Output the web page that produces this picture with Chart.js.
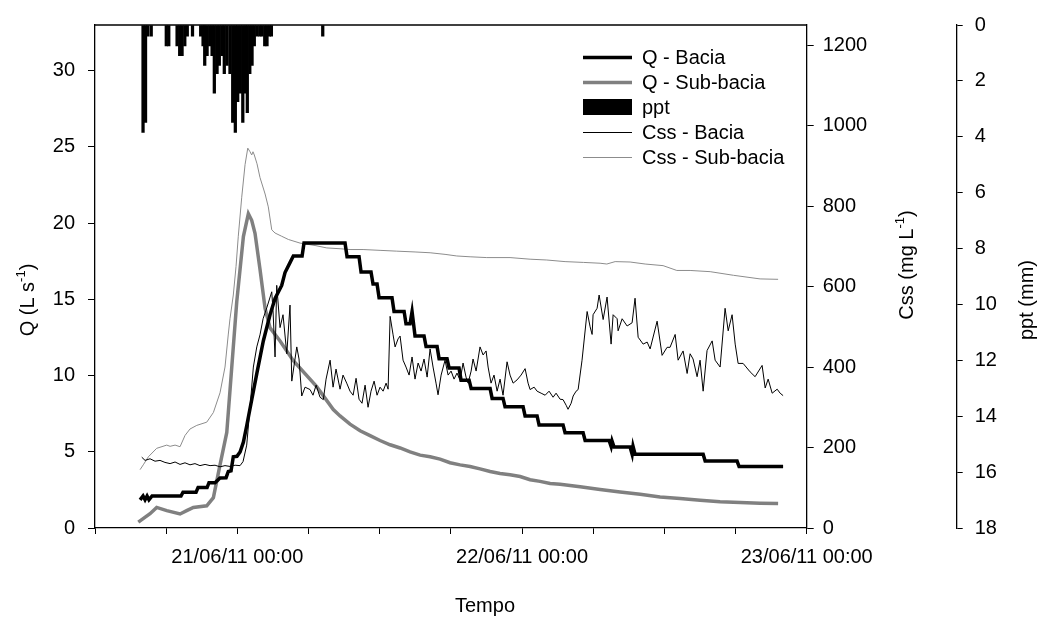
<!DOCTYPE html>
<html>
<head>
<meta charset="utf-8">
<script src="https://cdn.jsdelivr.net/npm/chart.js@4.4.1/dist/chart.umd.min.js"></script>
<style>
  html, body { margin: 0; padding: 0; background: #fff; }
  #wrap { width: 1041px; height: 620px; }
</style>
</head>
<body>
<div id="wrap"><canvas id="chart" width="1041" height="620"></canvas></div>
<script>
// time is in hours counted from 21/06/11 00:00
const xTicks = [-12, -6, 0, 6, 12, 18, 24, 30, 36, 42, 48];
const xTickLabels = ['', '', '21/06/11 00:00', '', '', '', '22/06/11 00:00', '', '', '', '23/06/11 00:00'];
const qTicks = [0, 5, 10, 15, 20, 25, 30];
const cssTicks = [0, 200, 400, 600, 800, 1000, 1200];
const pptTicks = [0, 2, 4, 6, 8, 10, 12, 14, 16, 18];

const seriesNames = ['Q - Bacia', 'Q - Sub-bacia', 'ppt', 'Css - Bacia', 'Css - Sub-bacia'];

// Q - Bacia (L s-1), stepped record
const qBaciaTime = [-8.20, -7.95, -7.78, -7.61, -7.45, -7.19, -4.75, -4.58, -3.48, -3.31, -2.55, -2.39, -1.88, -1.46, -0.95, -0.76, -0.53, -0.34, -0.03, 0.23,
  0.51, 0.79, 1.21, 1.64, 2.19, 2.61, 2.76, 3.18, 3.74, 4.02, 4.44, 4.72, 5.46, 5.62, 9.08, 9.25, 10.26, 10.43, 11.27, 11.44,
  11.78, 11.95, 13.04, 13.21, 14.06, 14.22, 14.56, 14.73, 14.98, 15.74, 15.91, 16.84, 17.01, 17.68, 17.85, 18.69, 18.86, 19.54, 19.71, 21.31,
  21.48, 22.40, 22.57, 24.09, 24.26, 25.27, 25.44, 27.46, 27.63, 29.15, 29.32, 31.34, 31.51, 31.59, 31.76, 33.11, 33.28, 33.36, 33.53, 39.27,
  39.44, 42.13, 42.30, 46.01];
const qBaciaValue = [1.85, 2.1, 1.85, 2.1, 1.85, 2.1, 2.1, 2.35, 2.35, 2.65, 2.65, 2.97, 2.97, 3.28, 3.3, 3.71, 3.75, 4.67, 4.7, 4.99,
  5.63, 6.71, 8.41, 10.13, 12.27, 13.55, 14.0, 15.06, 15.91, 16.76, 17.41, 17.84, 17.84, 18.69, 18.69, 17.8, 17.8, 16.8, 16.8, 16.0,
  16.0, 15.1, 15.1, 14.2, 14.2, 13.4, 13.4, 14.2, 12.6, 12.6, 11.9, 11.9, 11.1, 11.1, 10.5, 10.5, 9.7, 9.7, 9.15, 9.15,
  8.5, 8.5, 7.95, 7.95, 7.35, 7.35, 6.75, 6.75, 6.25, 6.25, 5.74, 5.74, 5.35, 5.7, 5.31, 5.31, 4.84, 5.35, 4.84, 4.84,
  4.39, 4.39, 4.03, 4.03];

// Q - Sub-bacia (L s-1)
const qSubTime = [-8.35, -7.36, -6.80, -5.95, -4.83, -4.27, -3.71, -2.58, -2.02, -1.46, -0.89, -0.47, -0.05, 0.51, 0.93, 1.21, 1.49, 1.91, 2.34, 2.76,
  3.60, 4.72, 6.69, 8.09, 8.66, 9.50, 10.35, 11.19, 12.03, 12.88, 13.72, 14.56, 15.41, 16.25, 17.09, 17.93, 18.78, 19.62, 20.46, 21.31,
  22.15, 22.99, 23.84, 24.68, 25.52, 26.37, 27.21, 28.90, 30.58, 32.27, 33.96, 35.64, 37.33, 39.01, 40.70, 42.39, 44.07, 45.59];
const qSubValue = [0.39, 0.94, 1.35, 1.14, 0.92, 1.14, 1.35, 1.46, 1.99, 4.14, 6.27, 10.56, 14.84, 19.12, 20.62, 20.19, 19.33, 16.98, 14.41, 13.13,
  12.27, 10.98, 9.27, 7.77, 7.35, 6.81, 6.38, 6.06, 5.74, 5.46, 5.25, 4.99, 4.78, 4.67, 4.52, 4.28, 4.14, 4.03, 3.88, 3.71,
  3.58, 3.49, 3.38, 3.17, 3.06, 2.92, 2.87, 2.70, 2.53, 2.36, 2.21, 2.04, 1.93, 1.82, 1.73, 1.67, 1.63, 1.61];

// Css - Bacia (mg L-1)
const cssBaciaTime = [-8.06, -7.78, -7.36, -6.94, -6.52, -6.10, -5.67, -5.25, -4.83, -4.41, -3.99, -3.57, -3.15, -2.72, -2.30, -1.88, -1.46, -1.04, -0.62, -0.19,
  0.23, 0.48, 0.79, 1.07, 1.35, 1.64, 1.91, 2.17, 2.48, 2.90, 3.01, 3.18, 3.32, 3.60, 3.85, 4.17, 4.44, 4.59, 5.01, 5.20,
  5.43, 5.71, 6.13, 6.38, 6.64, 6.97, 7.25, 7.48, 7.82, 8.07, 8.32, 8.66, 8.91, 9.22, 9.50, 9.76, 10.01, 10.26, 10.51, 10.77,
  11.02, 11.27, 11.53, 11.78, 12.03, 12.29, 12.54, 12.71, 12.88, 13.13, 13.30, 13.55, 13.72, 13.97, 14.22, 14.48, 14.73, 14.98, 15.24, 15.49,
  15.74, 16.00, 16.25, 16.50, 16.75, 16.92, 17.18, 17.51, 17.77, 18.02, 18.27, 18.52, 18.78, 19.03, 19.28, 19.45, 19.71, 19.87, 20.13, 20.46,
  20.72, 20.97, 21.14, 21.39, 21.64, 21.90, 22.15, 22.40, 22.74, 22.99, 23.25, 23.58, 23.92, 24.26, 24.51, 24.68, 25.02, 25.27, 25.61, 25.95,
  26.28, 26.62, 26.87, 27.21, 27.46, 27.72, 27.88, 28.14, 28.31, 28.56, 28.73, 29.06, 29.49, 29.74, 29.91, 29.99, 30.33, 30.50, 30.84, 31.17,
  31.51, 31.68, 32.02, 32.10, 32.44, 32.86, 33.28, 33.53, 33.79, 34.21, 34.55, 34.80, 35.39, 35.81, 36.23, 36.48, 36.91, 37.16, 37.58, 37.92,
  38.17, 38.42, 38.76, 39.01, 39.27, 39.60, 40.03, 40.28, 40.70, 41.12, 41.38, 41.71, 41.97, 42.22, 42.64, 43.23, 43.65, 44.24, 44.50, 44.75,
  45.09, 45.51, 45.76, 46.01];
const cssBaciaValue = [176, 168, 172, 166, 168, 163, 160, 164, 158, 162, 157, 160, 155, 158, 155, 156, 152, 155, 153, 156,
  155, 165, 206, 300, 400, 450, 480, 520, 547, 587, 540, 425, 603, 498, 530, 433, 554, 365, 450, 420,
  328, 350, 344, 330, 355, 325, 319, 370, 417, 350, 395, 345, 380, 360, 340, 330, 372, 320, 310, 355,
  300, 340, 365, 330, 350, 340, 360, 345, 526, 480, 450, 470, 477, 417, 400, 380, 425, 370, 410, 390,
  420, 375, 445, 400, 360, 331, 380, 417, 380, 390, 370, 385, 367, 410, 375, 360, 390, 420, 390, 450,
  430, 440, 400, 360, 380, 340, 370, 330, 413, 380, 360, 368, 380, 396, 360, 344, 350, 340, 335, 330,
  340, 325, 335, 320, 319, 305, 295, 310, 328, 340, 344, 417, 538, 500, 481, 530, 546, 579, 518, 574,
  457, 530, 520, 490, 520, 502, 510, 571, 474, 457, 462, 445, 514, 429, 449, 449, 481, 417, 440, 384,
  433, 420, 376, 417, 340, 441, 465, 417, 400, 546, 490, 530, 457, 409, 409, 388, 376, 404, 348, 370,
  335, 345, 335, 329];

// Css - Sub-bacia (mg L-1)
const cssSubTime = [-8.20, -7.93, -7.50, -6.80, -5.95, -5.67, -5.25, -4.83, -4.41, -3.99, -3.42, -2.58, -2.02, -1.46, -1.04, -0.76, -0.62, -0.34, -0.11, 0.08,
  0.37, 0.65, 0.88, 1.07, 1.21, 1.32, 1.43, 1.66, 1.91, 2.34, 2.61, 2.90, 3.18, 3.74, 4.30, 5.29, 6.55, 7.54, 8.66, 9.50,
  10.60, 12.03, 13.44, 14.98, 16.25, 17.51, 18.50, 19.62, 21.03, 22.99, 24.68, 26.09, 27.63, 29.17, 30.58, 31.15, 31.85, 33.11, 34.38, 35.89,
  37.05, 38.17, 39.86, 41.82, 44.07, 45.59];
const cssSubValue = [145, 157, 177, 198, 206, 203, 206, 202, 230, 246, 255, 263, 287, 336, 400, 482, 520, 579, 650, 725,
  822, 903, 944, 935, 927, 935, 927, 905, 871, 830, 798, 741, 733, 725, 717, 708, 702, 696, 694, 692,
  692, 690, 688, 686, 684, 680, 676, 674, 672, 672, 668, 666, 662, 660, 658, 656, 662, 661, 656, 652,
  640, 640, 637, 628, 619, 618];

// ppt (mm) per interval
const pptTime = [-7.95, -7.74, -7.55, -7.26, -5.99, -5.78, -5.08, -4.86, -4.66, -4.43, -4.22, -3.78, -3.09, -2.89, -2.75, -2.55, -2.33, -2.13, -1.94, -1.71,
  -1.52, -1.29, -1.10, -0.87, -0.62, -0.39, -0.17, 0.03, 0.25, 0.46, 0.67, 0.84, 1.05, 1.24, 1.43, 1.66, 1.89, 2.08, 2.31, 2.50,
  2.70, 2.87, 7.20];
const pptValue = [3.84, 3.49, 0.40, 0.40, 0.75, 0.75, 0.75, 1.10, 1.10, 0.75, 0.40, 0.40, 0.40, 0.75, 1.45, 1.10, 0.75, 1.10, 2.44, 1.74,
  1.45, 1.10, 1.74, 1.45, 1.74, 3.49, 3.84, 2.74, 2.44, 3.49, 2.44, 3.14, 1.74, 1.45, 0.75, 0.40, 0.40, 0.40, 0.75, 0.75,
  0.40, 0.40, 0.40];

const FONT_FAMILY = '"Liberation Sans", Arial, Helvetica, sans-serif';
const FONT_SIZE = 20;

function pairs(xs, ys) {
  return xs.map((x, i) => ({ x: x, y: ys[i] }));
}

// draw text made of pieces, some of them superscript
function richText(ctx, parts, x, y, rotate) {
  const big = FONT_SIZE + 'px ' + FONT_FAMILY;
  const small = '13px ' + FONT_FAMILY;
  let total = 0;
  parts.forEach(([t, sup]) => {
    ctx.font = sup ? small : big;
    total += ctx.measureText(t).width;
  });
  ctx.save();
  ctx.translate(x, y);
  if (rotate) ctx.rotate(-Math.PI / 2);
  ctx.fillStyle = '#000';
  ctx.textBaseline = 'middle';
  ctx.textAlign = 'left';
  let pos = -total / 2;
  parts.forEach(([t, sup]) => {
    ctx.font = sup ? small : big;
    ctx.fillText(t, pos, sup ? -7 : 0);
    pos += ctx.measureText(t).width;
  });
  ctx.restore();
}

const decorations = {
  id: 'decorations',
  afterDraw(chart) {
    const ctx = chart.ctx;
    const area = chart.chartArea;

    // top edge of the frame
    ctx.save();
    ctx.strokeStyle = '#000';
    ctx.lineWidth = 1.3;
    ctx.beginPath();
    ctx.moveTo(area.left, area.top);
    ctx.lineTo(area.right, area.top);
    ctx.stroke();
    ctx.restore();

    // axis titles
    richText(ctx, [['Q (L s', false], ['-1', true], [')', false]], 28, 300, true);
    richText(ctx, [['Css (mg L', false], ['-1', true], [')', false]], 907, 265, true);
    richText(ctx, [['ppt (mm)', false]], 1027, 300, true);
    richText(ctx, [['Tempo', false]], 485, 606, false);

    // legend
    const rows = [57, 82, 107, 132, 157];
    const styles = [
      { color: '#000', width: 3.5 },
      { color: '#808080', width: 3.5 },
      { color: '#000', box: true },
      { color: '#000', width: 1 },
      { color: '#8c8c8c', width: 1 },
    ];
    ctx.save();
    styles.forEach((s, i) => {
      const y = rows[i];
      if (s.box) {
        ctx.fillStyle = s.color;
        ctx.fillRect(583, y - 8, 49, 16);
      } else {
        ctx.strokeStyle = s.color;
        ctx.lineWidth = s.width;
        ctx.beginPath();
        ctx.moveTo(583, y + 0.5);
        ctx.lineTo(632, y + 0.5);
        ctx.stroke();
      }
      ctx.fillStyle = '#000';
      ctx.font = FONT_SIZE + 'px ' + FONT_FAMILY;
      ctx.textBaseline = 'middle';
      ctx.fillText(seriesNames[i], 642, y + 1);
    });
    ctx.restore();
  }
};

function tickList(values) {
  return (scale) => {
    scale.ticks = values.map(v => ({ value: v }));
  };
}

const tickFont = { family: FONT_FAMILY, size: FONT_SIZE };
const plainLabel = (v) => String(v);

const ctx = document.getElementById('chart');
window.chart = new Chart(ctx, {
  type: 'line',
  data: {
    datasets: [
      {
        label: seriesNames[0],
        data: pairs(qBaciaTime, qBaciaValue),
        yAxisID: 'y',
        borderColor: '#000',
        borderWidth: 3.5,
        pointRadius: 0,
        tension: 0,
      },
      {
        label: seriesNames[3],
        data: pairs(cssBaciaTime, cssBaciaValue),
        yAxisID: 'y1',
        borderColor: '#000',
        borderWidth: 1,
        pointRadius: 0,
        tension: 0,
      },
      {
        label: seriesNames[1],
        data: pairs(qSubTime, qSubValue),
        yAxisID: 'y',
        borderColor: '#808080',
        borderWidth: 3.5,
        pointRadius: 0,
        tension: 0,
      },
      {
        label: seriesNames[4],
        data: pairs(cssSubTime, cssSubValue),
        yAxisID: 'y1',
        borderColor: '#8c8c8c',
        borderWidth: 1,
        pointRadius: 0,
        tension: 0,
      },
      {
        type: 'bar',
        label: seriesNames[2],
        data: pairs(pptTime, pptValue),
        yAxisID: 'y2',
        backgroundColor: '#000',
        borderWidth: 0,
        barThickness: 2.6,
        grouped: false,
      },
    ],
  },
  options: {
    responsive: false,
    animation: false,
    devicePixelRatio: 1,
    layout: { padding: { top: 14, left: 0, right: 0, bottom: 0 } },
    plugins: {
      legend: { display: false },
      tooltip: { enabled: false },
    },
    scales: {
      x: {
        type: 'linear',
        position: 'bottom',
        min: -12,
        max: 48,
        offset: false,
        afterBuildTicks: tickList(xTicks),
        afterFit: (s) => { s.height = 92; },
        grid: { offset: false, drawOnChartArea: false, drawTicks: true, tickLength: 6, color: '#000', lineWidth: 1 },
        border: { display: true, color: '#000', width: 1.3 },
        ticks: {
          font: tickFont,
          color: '#000',
          padding: 11,
          maxRotation: 0,
          autoSkip: false,
          callback: (v) => xTickLabels[xTicks.indexOf(v)],
        },
      },
      y: {
        type: 'linear',
        position: 'left',
        min: 0,
        max: 33,
        afterBuildTicks: tickList(qTicks),
        afterFit: (s) => { s.width = 95; },
        grid: { drawOnChartArea: false, tickLength: 7, color: '#000', lineWidth: 1 },
        border: { display: true, color: '#000', width: 1.3 },
        ticks: { font: tickFont, color: '#000', padding: 13, callback: plainLabel },
      },
      y1: {
        type: 'linear',
        position: 'right',
        min: 0,
        max: 1250,
        weight: 0,
        afterBuildTicks: tickList(cssTicks),
        afterFit: (s) => { s.width = 150; },
        grid: { drawOnChartArea: false, tickLength: 7, color: '#000', lineWidth: 1 },
        border: { display: true, color: '#000', width: 1.3 },
        ticks: { font: tickFont, color: '#000', padding: 9, callback: plainLabel },
      },
      y2: {
        type: 'linear',
        position: 'right',
        reverse: true,
        min: 0,
        max: 18,
        weight: 1,
        afterBuildTicks: tickList(pptTicks),
        afterFit: (s) => { s.width = 84.3; },
        grid: { drawOnChartArea: false, tickLength: 6, color: '#000', lineWidth: 1 },
        border: { display: true, color: '#000', width: 1.3 },
        ticks: { font: tickFont, color: '#000', padding: 12, callback: plainLabel },
      },
    },
  },
  plugins: [decorations],
});
</script>
</body>
</html>
